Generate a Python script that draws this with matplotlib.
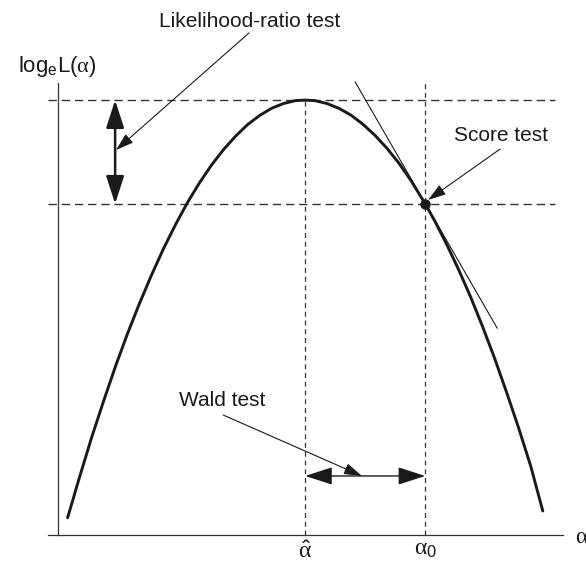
import matplotlib
matplotlib.use("Agg")
import matplotlib.pyplot as plt
from matplotlib.patches import FancyArrowPatch

plt.rcParams["font.family"] = ["Liberation Sans", "DejaVu Sans"]
plt.rcParams["mathtext.fontset"] = "custom"
plt.rcParams["mathtext.rm"] = "Liberation Sans"
plt.rcParams["mathtext.it"] = "Liberation Serif"

# ─── data (alpha, log-likelihood) ───────────────────────────────────────
alpha_pts = [0.20, 0.45, 0.70, 0.95, 1.20, 1.45, 1.70, 1.95, 2.20, 2.45,
             2.70, 2.95, 3.20, 3.45, 3.70, 3.95, 4.20, 4.45, 4.70, 4.95,
             5.15, 5.35, 5.60, 5.85, 6.10, 6.35, 6.60, 6.85, 7.10, 7.35,
             7.65, 7.85, 8.10, 8.35, 8.60, 8.85, 9.10, 9.35, 9.60, 9.85, 10.10]
logL_pts = [0.36, 1.21, 2.03, 2.79, 3.52, 4.20, 4.83, 5.42, 5.97, 6.47,
            6.93, 7.34, 7.71, 8.03, 8.31, 8.55, 8.74, 8.89, 8.99, 9.05,
            9.06, 9.05, 8.99, 8.89, 8.75, 8.56, 8.33, 8.06, 7.75, 7.39,
            6.90, 6.54, 6.05, 5.52, 4.95, 4.33, 3.67, 2.96, 2.22, 1.43, 0.50]

alpha_hat = 5.15
alpha_0 = 7.65
logL_max = 9.06
logL_0 = 6.90

tangent_alpha = [6.19, 9.15]
tangent_logL = [9.44, 4.31]

wald_level = 1.23
lr_pos = 1.19

INK = "#1a1a1a"
AXC = "#333333"

fig = plt.figure(figsize=(5.86, 5.69), dpi=100, facecolor="white")
ax = fig.add_axes([0, 0, 1, 1])
ax.set_xlim(-58 / 48, (586 - 58) / 48)
ax.set_ylim(-(569 - 535) / 48, 535 / 48)
ax.axis("off")

# axes
ax.plot([0, 0], [0, 9.42], color=AXC, lw=0.9)
ax.plot([-0.21, 10.52], [0, 0], color=AXC, lw=0.9)

# dashed guides
for lv in [logL_max, logL_0]:
    ax.plot([-0.21, 10.35], [lv, lv], color=AXC, lw=1.0, ls=(0, (6, 3.5)))
ax.plot([alpha_hat, alpha_hat], [0, logL_max], color=AXC, lw=0.9, ls=(0, (4, 3)))
ax.plot([alpha_0, alpha_0], [0, 9.42], color=AXC, lw=0.9, ls=(0, (4, 3)))

# curve, tangent, point
ax.plot(alpha_pts, logL_pts, color=INK, lw=2.1, solid_capstyle="round",
        solid_joinstyle="round", zorder=4)
ax.plot(tangent_alpha, tangent_logL, color=INK, lw=0.8, zorder=3)
ax.plot([alpha_0], [logL_0], "o", color=INK, ms=6.5, zorder=5)


def arrow(p0, p1, style, lw):
    a = FancyArrowPatch(p0, p1, arrowstyle=style, color=INK, lw=lw,
                        shrinkA=0, shrinkB=0, mutation_scale=1, zorder=6)
    ax.add_patch(a)


# likelihood-ratio double arrow
arrow((lr_pos, logL_0), (lr_pos, logL_max), "<|-|>,head_length=17,head_width=5.5", 1.8)
# wald double arrow
arrow((alpha_hat, wald_level), (alpha_0, wald_level), "<|-|>,head_length=17,head_width=5.5", 1.0)

# annotations
ax.text(4.0, 10.69, "Likelihood-ratio test", ha="center", va="center", fontsize=15, color=INK)
arrow((3.98, 10.46), (lr_pos + 0.02, 8.02), "-|>,head_length=11,head_width=3.5", 0.8)

ax.text(9.23, 8.33, "Score test", ha="center", va="center", fontsize=15, color=INK)
arrow((9.21, 8.04), (7.71, 6.98), "-|>,head_length=11,head_width=3.5", 0.8)

ax.text(3.42, 2.81, "Wald test", ha="center", va="center", fontsize=15, color=INK)
arrow((3.44, 2.50), (6.33, wald_level), "-|>,head_length=11,head_width=3.5", 0.8)

# labels
ax.text(-0.02, 9.77, r"$\mathrm{log_e L}(\alpha)$", ha="center", va="center",
        fontsize=16, color=INK)
ax.text(alpha_hat, -0.35, r"$\hat{\alpha}$", ha="center", va="center", fontsize=17, color=INK)
ax.text(alpha_0, -0.30, r"$\alpha_0$", ha="center", va="center", fontsize=17, color=INK)
ax.text(10.92, -0.05, r"$\alpha$", ha="center", va="center", fontsize=17, color=INK)

fig.savefig("out.png", dpi=100, facecolor="white")
